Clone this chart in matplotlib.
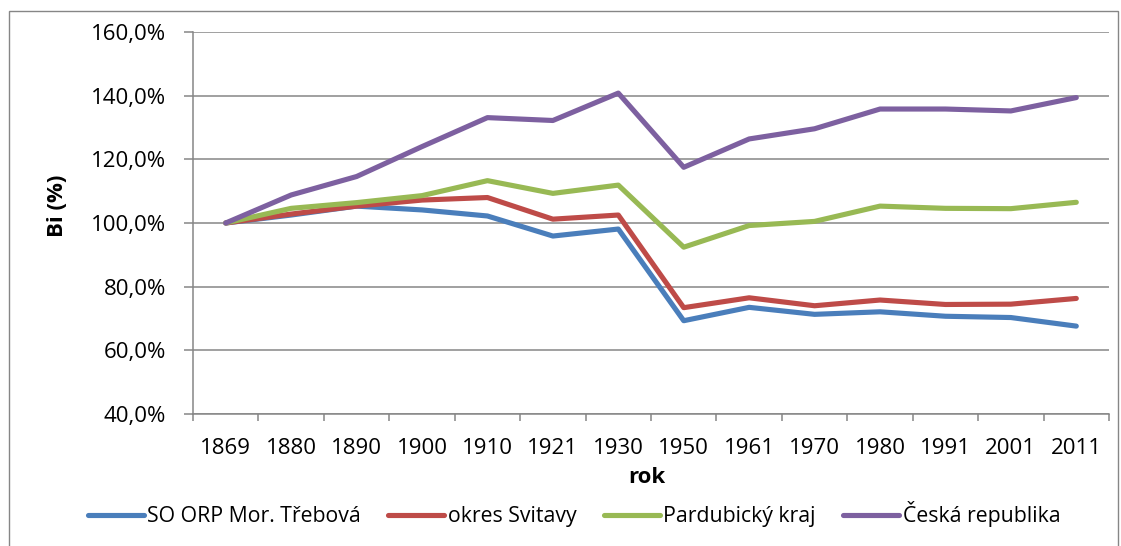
import matplotlib.pyplot as plt
import numpy as np
from matplotlib.ticker import FuncFormatter, FixedLocator
from matplotlib.patches import Rectangle

plt.rcParams['font.family'] = ['Open Sans', 'DejaVu Sans']

years = ["1869", "1880", "1890", "1900", "1910", "1921", "1930",
         "1950", "1961", "1970", "1980", "1991", "2001", "2011"]

orpMorTrebova = [100.0, 102.5, 105.3, 104.1, 102.2, 95.9, 98.1,
                 69.3, 73.5, 71.3, 72.1, 70.7, 70.3, 67.6]
okresSvitavy = [100.0, 102.8, 105.3, 107.2, 108.0, 101.2, 102.5,
                73.4, 76.5, 74.0, 75.8, 74.4, 74.5, 76.3]
pardubickyKraj = [100.0, 104.6, 106.4, 108.6, 113.3, 109.3, 111.9,
                  92.4, 99.2, 100.5, 105.3, 104.6, 104.5, 106.5]
ceskaRepublika = [100.0, 108.8, 114.6, 124.0, 133.1, 132.2, 140.8,
                  117.5, 126.4, 129.6, 135.8, 135.8, 135.2, 139.4]

seriesNames = ["SO ORP Mor. Třebová", "okres Svitavy", "Pardubický kraj", "Česká republika"]
seriesColors = ["#4A7EBB", "#BE4B48", "#98B954", "#7D60A0"]

fig = plt.figure(figsize=(11.21, 5.46), dpi=100)
ax = fig.add_axes([0.1722, 0.2418, 0.8171, 0.6996])

# outer chart border
fig.patches.append(Rectangle((9 / 1121, -0.05), (1118 - 9) / 1121, 1 - 11 / 546 + 0.05,
                             transform=fig.transFigure, fill=False,
                             edgecolor="#868686", linewidth=1.0))

x = np.arange(len(years))
allSeries = [orpMorTrebova, okresSvitavy, pardubickyKraj, ceskaRepublika]
lines = []
for data, name, color in zip(allSeries, seriesNames, seriesColors):
    ln, = ax.plot(x, data, color=color, linewidth=3.7, label=name,
                  solid_capstyle="round", solid_joinstyle="round")
    lines.append(ln)

ax.set_xlim(-0.5, len(years) - 0.5)
ax.set_ylim(40, 160)
ax.set_yticks(np.arange(40, 161, 20))
ax.yaxis.set_major_formatter(FuncFormatter(lambda v, p: "{:.1f}%".format(v).replace(".", ",")))
ax.grid(axis="y", color="#868686", linewidth=1.1)
ax.set_axisbelow(True)

ax.set_xticks(x)
ax.set_xticklabels(years)
ax.xaxis.set_minor_locator(FixedLocator(np.arange(-0.5, len(years), 1.0)))
ax.tick_params(axis="x", which="major", length=0, pad=17, labelsize=16)
ax.tick_params(axis="x", which="minor", length=5, width=1.1, color="#868686")
ax.tick_params(axis="y", length=6.5, width=1.1, color="#868686", pad=13, labelsize=16)

for side in ["top", "right"]:
    ax.spines[side].set_visible(False)
for side in ["left", "bottom"]:
    ax.spines[side].set_color("#868686")
    ax.spines[side].set_linewidth(1.1)

ax.set_xlabel("rok", fontsize=16, fontweight="bold")
ax.xaxis.set_label_coords(0.495, -0.1675)
ax.xaxis.label.set_va("center")
ax.set_ylabel("Bi (%)", fontsize=16, fontweight="bold")
ax.yaxis.set_label_coords(-0.148, 0.545)
ax.yaxis.label.set_va("center")

fig.legend(handles=lines, loc="center", bbox_to_anchor=(0.512, 0.0586), ncol=4, frameon=False,
           fontsize=15.3, handlelength=2.64, handletextpad=0.15, columnspacing=1.3,
           borderaxespad=0, borderpad=0)

fig.savefig("out.png", dpi=100)
